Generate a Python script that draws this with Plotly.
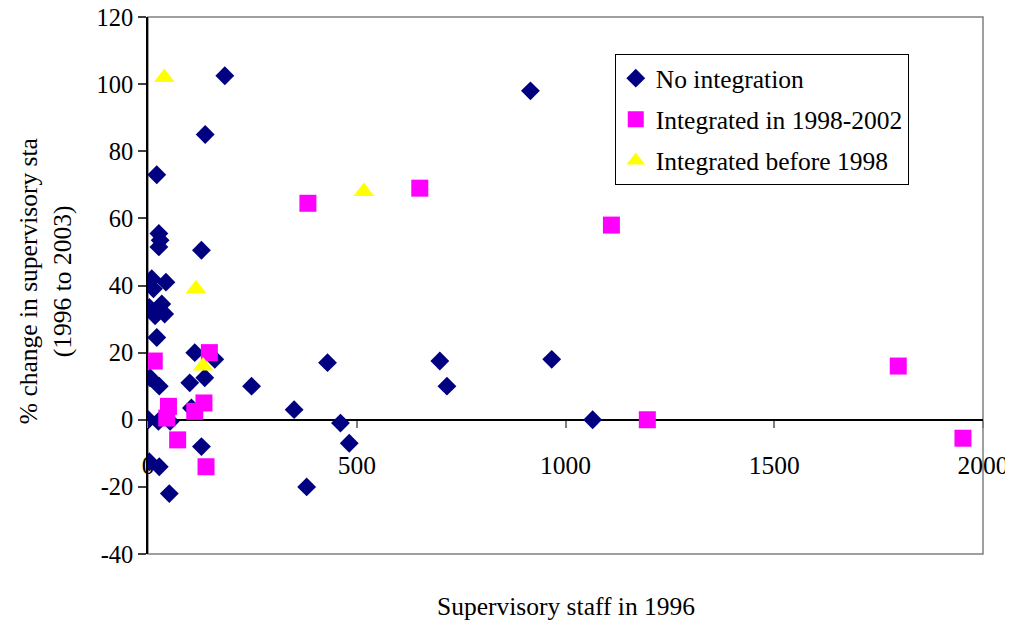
import plotly.graph_objects as go

# No integration (diamonds)
no_int_x = [184, 916, 137, 21, 26, 29, 26, 128, 9, 43, 13, 3, 33, 17, 40, 21, 112, 160, 136, 5,
            27, 100, 248, 104, 350, 430, 461, 482, 380, 699, 716, 967, 1065, 1, 25, 53, 128, 3, 27, 51]
no_int_y = [102.5, 98, 85, 73, 55.5, 53.5, 51.5, 50.5, 42, 41, 39, 33.5, 34.5, 31, 31.5, 24.5, 20, 18, 12.5, 12.5,
            10, 11, 10, 3.5, 3, 17, -1, -7, -20, 17.5, 10, 18, 0, 0, -0.5, -0.5, -8, -12.5, -14, -22]

# Integrated in 1998-2002 (squares)
int_9802_x = [383, 651, 1110, 147, 15, 1797, 134, 49, 112, 45, 1196, 71, 139, 1952]
int_9802_y = [64.5, 69, 58, 20, 17.5, 16, 5, 4, 2.5, 0.5, 0, -6, -14, -5.5]

# Integrated before 1998 (triangles)
int_pre_x = [39, 517, 115, 132]
int_pre_y = [102, 68, 39, 16]

x_ticks = [0, 500, 1000, 1500, 2000]
y_ticks = [-40, -20, 0, 20, 40, 60, 80, 100, 120]

FONT = "Liberation Serif"
FS = 25.5

fig = go.Figure()
fig.add_trace(go.Scatter(x=no_int_x, y=no_int_y, mode="markers", name="No integration",
                         legendgroup="a",
                         marker=dict(symbol="diamond", size=14.5, color="#000080",
                                     line=dict(width=0))))
fig.add_trace(go.Scatter(x=int_9802_x, y=int_9802_y, mode="markers", name="Integrated in 1998-2002",
                         legendgroup="b",
                         marker=dict(symbol="square", size=17, color="#FF00FF",
                                     line=dict(width=0))))
fig.add_trace(go.Scatter(x=int_pre_x, y=int_pre_y, mode="markers", name="Integrated before 1998",
                         legendgroup="c",
                         marker=dict(symbol="triangle-up", size=18, color="#FFFF00",
                                     line=dict(width=0))))

fig.update_layout(
    width=1005, height=613,
    margin=dict(l=140, r=30, t=9, b=67, autoexpand=False),
    paper_bgcolor="white", plot_bgcolor="white",
    font=dict(family=FONT, size=FS, color="black"),
    showlegend=True,
    legend=dict(x=0.559, y=0.931, xanchor="left", yanchor="top",
                bordercolor="black", borderwidth=1, bgcolor="white",
                font=dict(family=FONT, size=FS, color="black"),
                traceorder="grouped", tracegroupgap=5),
    xaxis=dict(range=[0, 2000], tickvals=x_ticks, ticktext=[str(v) for v in x_ticks],
               anchor="free", position=0.25, showline=True, linecolor="black", linewidth=1.5,
               ticks="outside", ticklen=7, tickcolor="#808080", tickwidth=1.5,
               ticklabelstandoff=16, showgrid=False, zeroline=False, layer="below traces",
               automargin=False, ticklabeloverflow="allow",
               tickfont=dict(family=FONT, size=FS, color="black")),
    yaxis=dict(range=[-40, 120], tickvals=y_ticks, ticktext=[str(v) for v in y_ticks],
               showline=True, linecolor="black", linewidth=1.5,
               ticks="outside", ticklen=8, tickcolor="#404040", tickwidth=1.5,
               showgrid=False, zeroline=False, layer="below traces",
               automargin=False, ticklabeloverflow="allow",
               tickfont=dict(family=FONT, size=24.5, color="black")),
    shapes=[dict(type="rect", xref="paper", yref="paper", x0=0, x1=1, y0=0, y1=1,
                 line=dict(color="#808080", width=1.5), layer="below")],
    annotations=[
        dict(text="Supervisory staff in 1996", xref="paper", yref="paper", x=0.5, y=-0.097,
             xanchor="center", yanchor="middle", showarrow=False,
             font=dict(family=FONT, size=FS, color="black")),
        dict(text="% change in supervisory sta", xref="paper", yref="paper", x=-0.1437, y=0.508,
             xanchor="center", yanchor="middle", textangle=-90, showarrow=False,
             font=dict(family=FONT, size=FS, color="black")),
        dict(text="(1996 to 2003)", xref="paper", yref="paper", x=-0.103, y=0.508,
             xanchor="center", yanchor="middle", textangle=-90, showarrow=False,
             font=dict(family=FONT, size=FS, color="black")),
    ],
)

fig.write_html("out.html")
